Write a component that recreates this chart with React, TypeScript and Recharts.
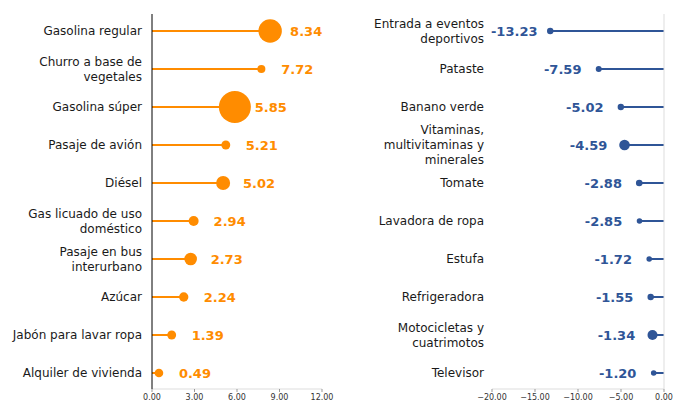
import React from 'react';
import {
  ComposedChart,
  Bar,
  Scatter,
  XAxis,
  YAxis,
  ZAxis,
  ReferenceLine,
  LabelList,
} from 'recharts';

// categorías (con saltos de línea como en la figura original)
const leftCategories = [
  'Gasolina regular',
  'Churro a base de\nvegetales',
  'Gasolina súper',
  'Pasaje de avión',
  'Diésel',
  'Gas licuado de uso\ndoméstico',
  'Pasaje en bus\ninterurbano',
  'Azúcar',
  'Jabón para lavar ropa',
  'Alquiler de vivienda',
];
const leftValues = [8.34, 7.72, 5.85, 5.21, 5.02, 2.94, 2.73, 2.24, 1.39, 0.49];
// ponderación estimada (tamaño de la burbuja)
const leftWeights = [2.14, 0.25, 4.0, 0.31, 0.77, 0.39, 0.62, 0.34, 0.31, 0.29];

const rightCategories = [
  'Entrada a eventos\ndeportivos',
  'Pataste',
  'Banano verde',
  'Vitaminas,\nmultivitaminas y\nminerales',
  'Tomate',
  'Lavadora de ropa',
  'Estufa',
  'Refrigeradora',
  'Motocicletas y\ncuatrimotos',
  'Televisor',
];
const rightValues = [-13.23, -7.59, -5.02, -4.59, -2.88, -2.85, -1.72, -1.55, -1.34, -1.2];
const rightWeights = [0.16, 0.14, 0.16, 0.44, 0.17, 0.12, 0.12, 0.16, 0.39, 0.12];

const leftTicks = [0, 3, 6, 9, 12];
const rightTicks = [-20, -15, -10, -5, 0];

const ORANGE = '#FF8C00';
const BLUE = '#2F5597';
const FONT = 'DejaVu Sans';

const leftData = leftCategories.map((name, i) => ({
  name,
  value: leftValues[i],
  weight: leftWeights[i],
}));
const rightData = rightCategories.map((name, i) => ({
  name,
  value: rightValues[i],
  weight: rightWeights[i],
}));

const CategoryTick = (props: any) => {
  const { x, y, payload } = props;
  const lines = String(payload.value).split('\n');
  const lh = 15;
  const y0 = y - ((lines.length - 1) * lh) / 2;
  return (
    <text textAnchor="end" fontSize={12} fill="#1a1a1a" fontFamily={FONT}>
      {lines.map((l, i) => (
        <tspan key={i} x={x} y={y0 + i * lh} dy="0.35em">
          {l}
        </tspan>
      ))}
    </text>
  );
};

// etiqueta centrada a ~36px del punto
const makeLabel = (color: string) => (props: any) => {
  const { x, y, width, height, value } = props;
  const end = value >= 0 ? Math.max(x, x + width) : Math.min(x, x + width);
  const cy = y + height / 2;
  return (
    <text
      x={value >= 0 ? end + 36 : end - 36}
      y={cy}
      dy="0.35em"
      textAnchor="middle"
      fontSize={13}
      fontWeight="bold"
      fontFamily={FONT}
      fill={color}
    >
      {Number(value).toFixed(2)}
    </text>
  );
};

const fmtRight = (v: number) => (v < 0 ? '\u2212' : '') + Math.abs(v).toFixed(2);

const App: React.FC = () => {
  return (
    <div style={{ position: 'absolute', left: 0, top: 0, width: 682, height: 403, background: '#fff', display: 'flex' }}>
      <ComposedChart
        width={341}
        height={403}
        data={leftData}
        layout="vertical"
        margin={{ top: 14, right: 19, bottom: 0, left: 0 }}
      >
        <ZAxis dataKey="weight" type="number" domain={[0, 4]} range={[0, 804]} />
        <XAxis
          type="number"
          dataKey="value"
          domain={[0, 12]}
          ticks={leftTicks}
          tickFormatter={(v: number) => v.toFixed(2)}
          height={14}
          axisLine={{ stroke: '#dddddd' }}
          tickLine={{ stroke: '#999999' }}
          tickSize={3}
          tick={{ fontSize: 8, fill: '#333', fontFamily: FONT }}
        />
        <YAxis
          type="category"
          dataKey="name"
          width={152}
          axisLine={{ stroke: '#000' }}
          tickLine={false}
          tickSize={0}
          tickMargin={10}
          tick={<CategoryTick />}
          padding={{ top: -2, bottom: -3 }}
          interval={0}
        />
        <Bar dataKey="value" barSize={2} fill={ORANGE} isAnimationActive={false}>
          <LabelList dataKey="value" content={makeLabel(ORANGE)} />
        </Bar>
        <Scatter dataKey="value" fill={ORANGE} isAnimationActive={false} />
      </ComposedChart>
      <ComposedChart
        width={341}
        height={403}
        data={rightData}
        layout="vertical"
        margin={{ top: 14, right: 18, bottom: 0, left: 0 }}
      >
        <ZAxis dataKey="weight" type="number" domain={[0, 4]} range={[0, 804]} />
        <XAxis
          type="number"
          dataKey="value"
          domain={[-20, 0]}
          ticks={rightTicks}
          tickFormatter={fmtRight}
          height={14}
          axisLine={{ stroke: '#dddddd' }}
          tickLine={{ stroke: '#999999' }}
          tickSize={3}
          tick={{ fontSize: 8, fill: '#333', fontFamily: FONT }}
        />
        <YAxis
          type="category"
          dataKey="name"
          width={151}
          axisLine={false}
          tickLine={false}
          tickSize={0}
          tickMargin={8}
          tick={<CategoryTick />}
          padding={{ top: -2, bottom: -3 }}
          interval={0}
        />
        <ReferenceLine x={0} stroke="#dddddd" />
        <Bar dataKey="value" barSize={2} fill={BLUE} isAnimationActive={false}>
          <LabelList dataKey="value" content={makeLabel(BLUE)} />
        </Bar>
        <Scatter dataKey="value" fill={BLUE} isAnimationActive={false} />
      </ComposedChart>
    </div>
  );
};

export default App;
